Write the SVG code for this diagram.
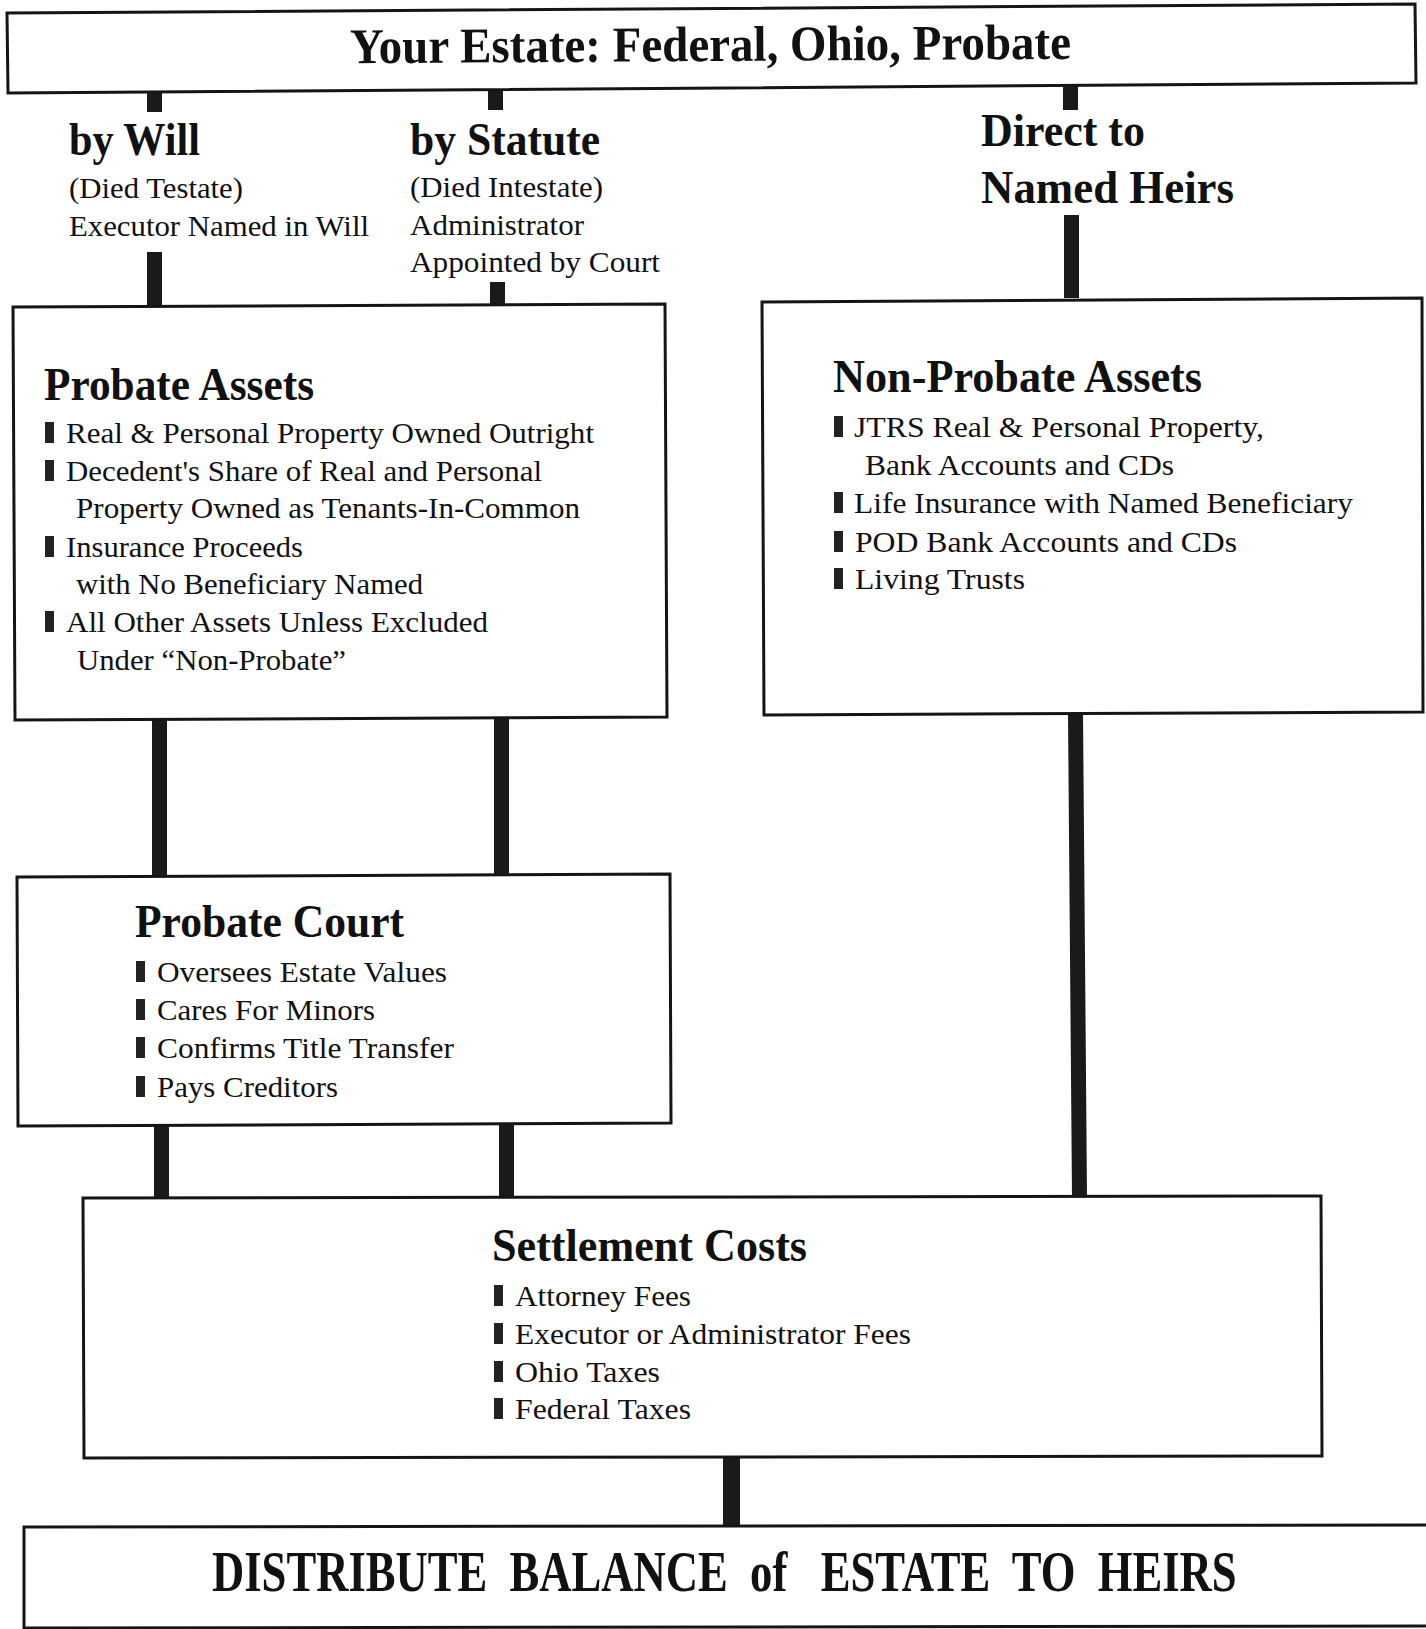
<svg xmlns="http://www.w3.org/2000/svg" width="1426" height="1629" viewBox="0 0 1426 1629">
<style>
.box{fill:#fff;stroke:#151515;stroke-width:3;stroke-linejoin:miter}
.con{fill:#1a1a1a}
.bul{fill:#222}
text{font-family:"Liberation Serif","Times New Roman",serif;fill:#111}
.h1{font-size:50px;font-weight:bold}
.h2{font-size:46px;font-weight:bold}
.b{font-size:30px}
.big{font-size:56px;font-weight:bold;white-space:pre}
</style>
<rect width="1426" height="1629" fill="#fff"/>
<g id="connectors">
<rect class="con" x="147" y="91" width="15" height="21"/>
<rect class="con" x="488" y="88" width="15" height="22"/>
<rect class="con" x="1063" y="82" width="15" height="28"/>
<rect class="con" x="147" y="252" width="15" height="56"/>
<rect class="con" x="490" y="282" width="15" height="23"/>
<rect class="con" x="1064" y="215" width="15" height="83"/>
<rect class="con" x="152" y="719" width="15" height="158"/>
<rect class="con" x="494" y="716" width="15" height="159"/>
<polygon class="con" points="1068,713 1083,713 1087,1197 1072,1197"/>
<rect class="con" x="154" y="1124" width="15" height="74"/>
<rect class="con" x="499" y="1122" width="15" height="75"/>
<rect class="con" x="723" y="1457" width="17" height="70"/>
</g>
<g id="estate">
<polygon class="box" points="7,13 1415,4 1416,83 8,93"/>
<text class="h1" x="350" y="61" textLength="721" lengthAdjust="spacingAndGlyphs" transform="rotate(-0.35 712 48)">Your Estate: Federal, Ohio, Probate</text>
</g>
<g id="by-will">
<text class="h2" x="69" y="155" textLength="131" lengthAdjust="spacingAndGlyphs">by Will</text>
<text class="b" x="69" y="198" textLength="174" lengthAdjust="spacingAndGlyphs">(Died Testate)</text>
<text class="b" x="69" y="236" textLength="300" lengthAdjust="spacingAndGlyphs">Executor Named in Will</text>
</g>
<g id="by-statute">
<text class="h2" x="410" y="155" textLength="190" lengthAdjust="spacingAndGlyphs">by Statute</text>
<text class="b" x="410" y="197" textLength="193" lengthAdjust="spacingAndGlyphs">(Died Intestate)</text>
<text class="b" x="410" y="235" textLength="174" lengthAdjust="spacingAndGlyphs">Administrator</text>
<text class="b" x="410" y="272" textLength="250" lengthAdjust="spacingAndGlyphs">Appointed by Court</text>
</g>
<g id="direct">
<text class="h2" x="981" y="146" textLength="164" lengthAdjust="spacingAndGlyphs">Direct to</text>
<text class="h2" x="981" y="203" textLength="253" lengthAdjust="spacingAndGlyphs">Named Heirs</text>
</g>
<g id="probate-assets">
<polygon class="box" points="13,307 665,304 667,717 15,720"/>
<text class="h2" x="44" y="400" textLength="270" lengthAdjust="spacingAndGlyphs">Probate Assets</text>
<rect class="bul" x="45" y="422" width="9" height="21"/>
<text class="b" x="66" y="443" textLength="528" lengthAdjust="spacingAndGlyphs">Real &amp; Personal Property Owned Outright</text>
<rect class="bul" x="45" y="460" width="9" height="21"/>
<text class="b" x="66" y="481" textLength="476" lengthAdjust="spacingAndGlyphs">Decedent's Share of Real and Personal</text>
<text class="b" x="76" y="518" textLength="504" lengthAdjust="spacingAndGlyphs">Property Owned as Tenants-In-Common</text>
<rect class="bul" x="45" y="536" width="9" height="21"/>
<text class="b" x="66" y="557" textLength="237" lengthAdjust="spacingAndGlyphs">Insurance Proceeds</text>
<text class="b" x="76" y="594" textLength="347" lengthAdjust="spacingAndGlyphs">with No Beneficiary Named</text>
<rect class="bul" x="45" y="611" width="9" height="21"/>
<text class="b" x="66" y="632" textLength="422" lengthAdjust="spacingAndGlyphs">All Other Assets Unless Excluded</text>
<text class="b" x="77" y="670" textLength="269" lengthAdjust="spacingAndGlyphs">Under “Non-Probate”</text>
</g>
<g id="non-probate-assets">
<polygon class="box" points="762,302 1422,298 1423,712 764,715"/>
<text class="h2" x="833" y="392" textLength="369" lengthAdjust="spacingAndGlyphs">Non-Probate Assets</text>
<rect class="bul" x="834" y="416" width="9" height="21"/>
<text class="b" x="854" y="437" textLength="410" lengthAdjust="spacingAndGlyphs">JTRS Real &amp; Personal Property,</text>
<text class="b" x="865" y="475" textLength="309" lengthAdjust="spacingAndGlyphs">Bank Accounts and CDs</text>
<rect class="bul" x="834" y="492" width="9" height="21"/>
<text class="b" x="854" y="513" textLength="499" lengthAdjust="spacingAndGlyphs">Life Insurance with Named Beneficiary</text>
<rect class="bul" x="834" y="531" width="9" height="21"/>
<text class="b" x="855" y="552" textLength="382" lengthAdjust="spacingAndGlyphs">POD Bank Accounts and CDs</text>
<rect class="bul" x="834" y="568" width="9" height="21"/>
<text class="b" x="855" y="589" textLength="170" lengthAdjust="spacingAndGlyphs">Living Trusts</text>
</g>
<g id="probate-court">
<polygon class="box" points="17,877 670,874 671,1123 18,1126"/>
<text class="h2" x="135" y="937" textLength="269" lengthAdjust="spacingAndGlyphs">Probate Court</text>
<rect class="bul" x="136" y="961" width="9" height="21"/>
<text class="b" x="157" y="982" textLength="290" lengthAdjust="spacingAndGlyphs">Oversees Estate Values</text>
<rect class="bul" x="136" y="999" width="9" height="21"/>
<text class="b" x="157" y="1020" textLength="218" lengthAdjust="spacingAndGlyphs">Cares For Minors</text>
<rect class="bul" x="136" y="1037" width="9" height="21"/>
<text class="b" x="157" y="1058" textLength="297" lengthAdjust="spacingAndGlyphs">Confirms Title Transfer</text>
<rect class="bul" x="136" y="1076" width="9" height="21"/>
<text class="b" x="157" y="1097" textLength="181" lengthAdjust="spacingAndGlyphs">Pays Creditors</text>
</g>
<g id="settlement-costs">
<polygon class="box" points="83,1198 1321,1196 1322,1456 84,1458"/>
<text class="h2" x="492" y="1261" textLength="315" lengthAdjust="spacingAndGlyphs">Settlement Costs</text>
<rect class="bul" x="494" y="1285" width="9" height="21"/>
<text class="b" x="515" y="1306" textLength="176" lengthAdjust="spacingAndGlyphs">Attorney Fees</text>
<rect class="bul" x="494" y="1323" width="9" height="21"/>
<text class="b" x="515" y="1344" textLength="396" lengthAdjust="spacingAndGlyphs">Executor or Administrator Fees</text>
<rect class="bul" x="494" y="1361" width="9" height="21"/>
<text class="b" x="515" y="1382" textLength="145" lengthAdjust="spacingAndGlyphs">Ohio Taxes</text>
<rect class="bul" x="494" y="1398" width="9" height="21"/>
<text class="b" x="515" y="1419" textLength="176" lengthAdjust="spacingAndGlyphs">Federal Taxes</text>
</g>
<g id="distribute">
<polygon class="box" points="24,1527 1432,1525 1432,1626 24,1628"/>
<text class="big" x="0" y="0" transform="translate(212 1591) scale(0.797 1)" xml:space="preserve">DISTRIBUTE  BALANCE  of   ESTATE  TO  HEIRS</text>
</g>
</svg>
